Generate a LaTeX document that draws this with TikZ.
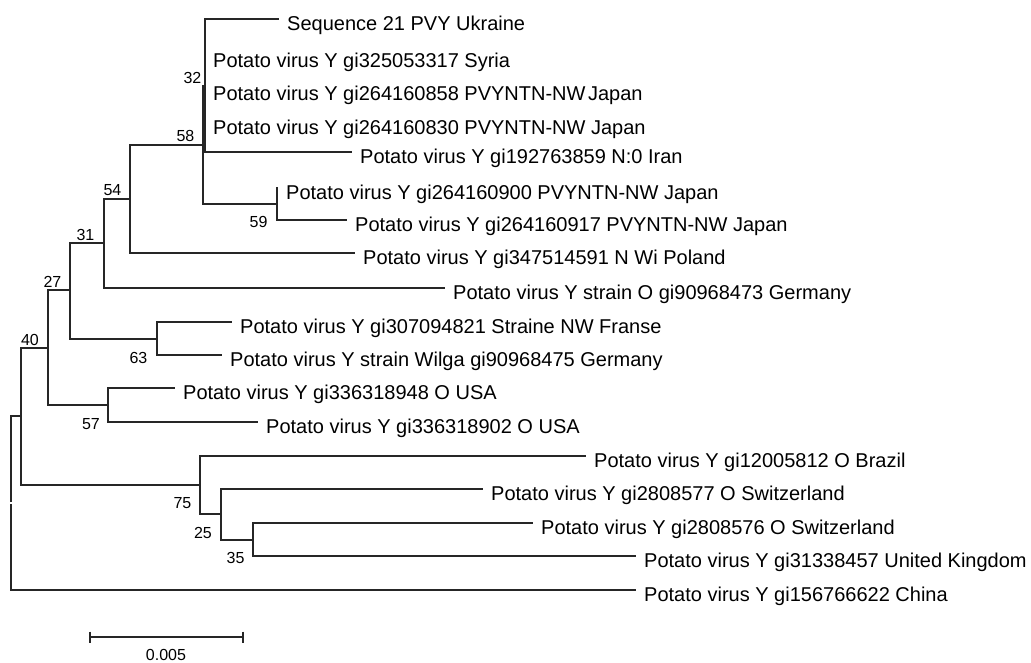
\documentclass[tikz,border=0pt]{standalone}
\usepackage{fontspec}
\setmainfont{Liberation Sans}
\begin{document}
\begin{tikzpicture}[x=1pt,y=-1pt,
  br/.style={draw=black!85, line width=1.3pt},
  leaf/.style={anchor=base west, inner sep=0pt, xshift=8pt, yshift=-11pt, font=\fontsize{20}{24}\selectfont},
  bs/.style={anchor=center, inner sep=0pt, font=\fontsize{16}{19}\selectfont}]
\useasboundingbox (0,0) rectangle (1031,662);
% internal nodes
\coordinate (rootA) at (11,502);
\coordinate (rootB) at (11,504);
\coordinate (nA) at (21,416);
\coordinate (n40) at (48,348);
\coordinate (n27) at (70,290);
\coordinate (n31) at (104,243);
\coordinate (n54) at (130,199);
\coordinate (n58) at (203,145);
\coordinate (n32) at (205,86);
\coordinate (n59) at (277,204);
\coordinate (n63) at (157,339);
\coordinate (n57) at (108,405);
\coordinate (n75) at (200,485);
\coordinate (n25) at (221,514);
\coordinate (n35) at (253,540);
% leaf branch ends
\coordinate (l1) at (279,19);
\coordinate (l2) at (205,56);
\coordinate (l3) at (205,89);
\coordinate (l4) at (205,123);
\coordinate (l5) at (352,152);
\coordinate (l6) at (278,188);
\coordinate (l7) at (347,220);
\coordinate (l8) at (355,253);
\coordinate (l9) at (445,288);
\coordinate (l10) at (232,322);
\coordinate (l11) at (222,355);
\coordinate (l12) at (175,388);
\coordinate (l13) at (258,422);
\coordinate (l14) at (586,456);
\coordinate (l15) at (483,489);
\coordinate (l16) at (533,523);
\coordinate (l17) at (636,556);
\coordinate (l18) at (636,590);
% leaf labels
\node[leaf] (t1) at (l1) {Sequence 21 PVY Ukraine};
\node[leaf] (t2) at (l2) {Potato virus Y gi325053317 Syria};
\node[leaf] (t3) at (l3) {Potato virus Y gi264160858 PVYNTN-NW\hspace{-3pt} Japan};
\node[leaf] (t4) at (l4) {Potato virus Y gi264160830 PVYNTN-NW Japan};
\node[leaf] (t5) at (l5) {Potato virus Y gi192763859 N:0 Iran};
\node[leaf] (t6) at (l6) {Potato virus Y gi264160900 PVYNTN-NW Japan};
\node[leaf] (t7) at (l7) {Potato virus Y gi264160917 PVYNTN-NW Japan};
\node[leaf] (t8) at (l8) {Potato virus Y gi347514591 N Wi Poland};
\node[leaf] (t9) at (l9) {Potato virus Y strain O gi90968473 Germany};
\node[leaf] (t10) at (l10) {Potato virus Y gi307094821 Straine NW Franse};
\node[leaf] (t11) at (l11) {Potato virus Y strain Wilga gi90968475 Germany};
\node[leaf] (t12) at (l12) {Potato virus Y gi336318948 O USA};
\node[leaf] (t13) at (l13) {Potato virus Y gi336318902 O USA};
\node[leaf] (t14) at (l14) {Potato virus Y gi12005812 O Brazil};
\node[leaf] (t15) at (l15) {Potato virus Y gi2808577 O Switzerland};
\node[leaf] (t16) at (l16) {Potato virus Y gi2808576 O Switzerland};
\node[leaf] (t17) at (l17) {Potato virus Y gi31338457 United Kingdom};
\node[leaf] (t18) at (l18) {Potato virus Y gi156766622 China};
% branches
\draw[br] (rootA) |- (nA);
\draw[br] (rootB) |- (l18);
\draw[br] (nA) |- (n40);
\draw[br] (nA) |- (n75);
\draw[br] (n40) |- (n27);
\draw[br] (n40) |- (n57);
\draw[br] (n27) |- (n31);
\draw[br] (n27) |- (n63);
\draw[br] (n31) |- (n54);
\draw[br] (n31) |- (l9);
\draw[br] (n54) |- (n58);
\draw[br] (n54) |- (l8);
\draw[br] (n58) |- (n32);
\draw[br] (n58) |- (n59);
\draw[br] (n32) |- (l1);
\draw[br] (n32) |- (l2);
\draw[br] (n32) |- (l3);
\draw[br] (n32) |- (l4);
\draw[br] (n32) |- (l5);
\draw[br] (n59) |- (l6);
\draw[br] (n59) |- (l7);
\draw[br] (n63) |- (l10);
\draw[br] (n63) |- (l11);
\draw[br] (n57) |- (l12);
\draw[br] (n57) |- (l13);
\draw[br] (n75) |- (l14);
\draw[br] (n75) |- (n25);
\draw[br] (n25) |- (l15);
\draw[br] (n25) |- (n35);
\draw[br] (n35) |- (l16);
\draw[br] (n35) |- (l17);
% bootstrap values
\node[bs] (b32) at (192.5,78) {32};
\node[bs] (b58) at (185.5,136) {58};
\node[bs] (b54) at (112.5,190) {54};
\node[bs] (b31) at (85.5,235) {31};
\node[bs] (b27) at (52.5,282) {27};
\node[bs] (b40) at (30,339.5) {40};
\node[bs] (b59) at (258.5,221.5) {59};
\node[bs] (b63) at (138.5,357.5) {63};
\node[bs] (b57) at (91,424) {57};
\node[bs] (b75) at (182.5,503) {75};
\node[bs] (b25) at (203,532.5) {25};
\node[bs] (b35) at (235.5,558) {35};
% scale bar
\coordinate (sL) at (90,637);
\coordinate (sR) at (243,637);
\draw[br] (sL) -- (sR);
\draw[br] ([yshift=5.5pt]sL) -- ([yshift=-5.5pt]sL);
\draw[br] ([yshift=5.5pt]sR) -- ([yshift=-5.5pt]sR);
\node[bs] (sc) at (166,654.5) {0.005};
\end{tikzpicture}
\end{document}
